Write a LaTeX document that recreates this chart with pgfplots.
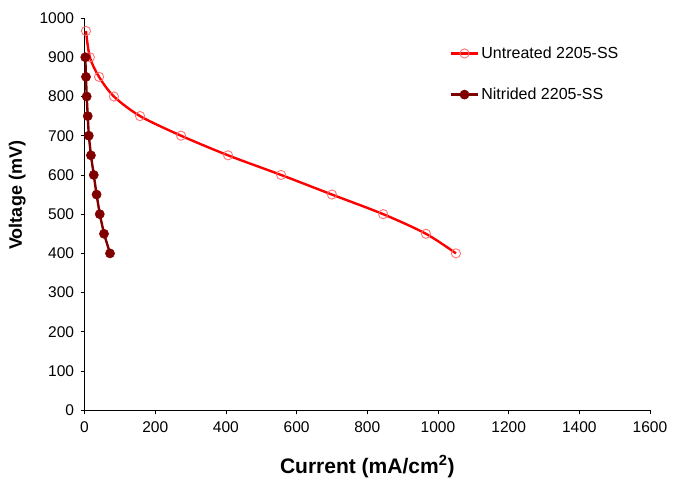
\documentclass[border=0pt]{standalone}
\usepackage{pgfplots}
\pgfplotsset{compat=1.18}
\usepackage{fontspec}
\setmainfont{Liberation Sans}
\definecolor{untreated}{RGB}{255,0,0}
\definecolor{nitrided}{RGB}{128,0,0}
\begin{document}
\begin{tikzpicture}
  \begin{axis}[
    scale only axis,
    width=565pt, height=392pt,
    xmin=0, xmax=1600, ymin=0, ymax=1000,
    xtick={0,200,...,1600}, ytick={0,100,...,1000},
    axis x line*=bottom, axis y line*=left,
    axis line style={line width=0.8pt},
    tick align=outside, major tick length=4pt,
    tick style={black, line width=0.8pt},
    ticklabel style={font=\fontsize{15.5}{18}\selectfont},
    xticklabel style={yshift=-4pt},
    yticklabel style={xshift=-3pt},
    /pgf/number format/assume math mode=true,
    /pgf/number format/1000 sep={},
    xlabel={\textbf{Current (mA/cm\textsuperscript{2})}},
    ylabel={\textbf{Voltage (mV)}},
    xlabel style={at={(axis description cs:0.5,-0.143)}, anchor=center,
      font=\fontsize{21}{25}\selectfont},
    ylabel style={at={(axis description cs:-0.119,0.548)}, anchor=center,
      font=\fontsize{18}{22}\selectfont},
    legend style={draw=none, fill=none, at={(0.64,0.937)}, anchor=north west,
      font=\fontsize{16}{18}\selectfont, row sep=24pt},
    legend cell align=left,
    legend image code/.code={
      \draw[mark repeat=2,mark phase=2,#1]
        plot coordinates {(0cm,0cm) (0.48cm,0cm) (0.96cm,0cm)};},
  ]
    \addplot[untreated, line width=2.4pt, smooth,
      mark=o, mark size=4.6pt,
      mark options={line width=0.9pt, draw=untreated!55, solid}] coordinates {
      (4,967) (15,900) (41,850) (83,800) (157,750) (273,700)
      (406,650) (556,600) (700,550) (845,500) (966,450) (1051,400)
    };
    \addplot[nitrided, line width=2.4pt,
      mark=*, mark size=4.6pt, mark options={fill=nitrided, line width=0.5pt}] coordinates {
      (2,900) (4,850) (6,800) (9,750) (12,700) (18,650)
      (26,600) (34,550) (43,500) (55,450) (72,400)
    };
    \legend{Untreated 2205-SS, Nitrided 2205-SS}
  \end{axis}
  \pgfresetboundingbox
  \path ([xshift=-84.5pt,yshift=-70pt]current axis.south west)
    rectangle ([xshift=23pt,yshift=18pt]current axis.north east);
\end{tikzpicture}
\end{document}
